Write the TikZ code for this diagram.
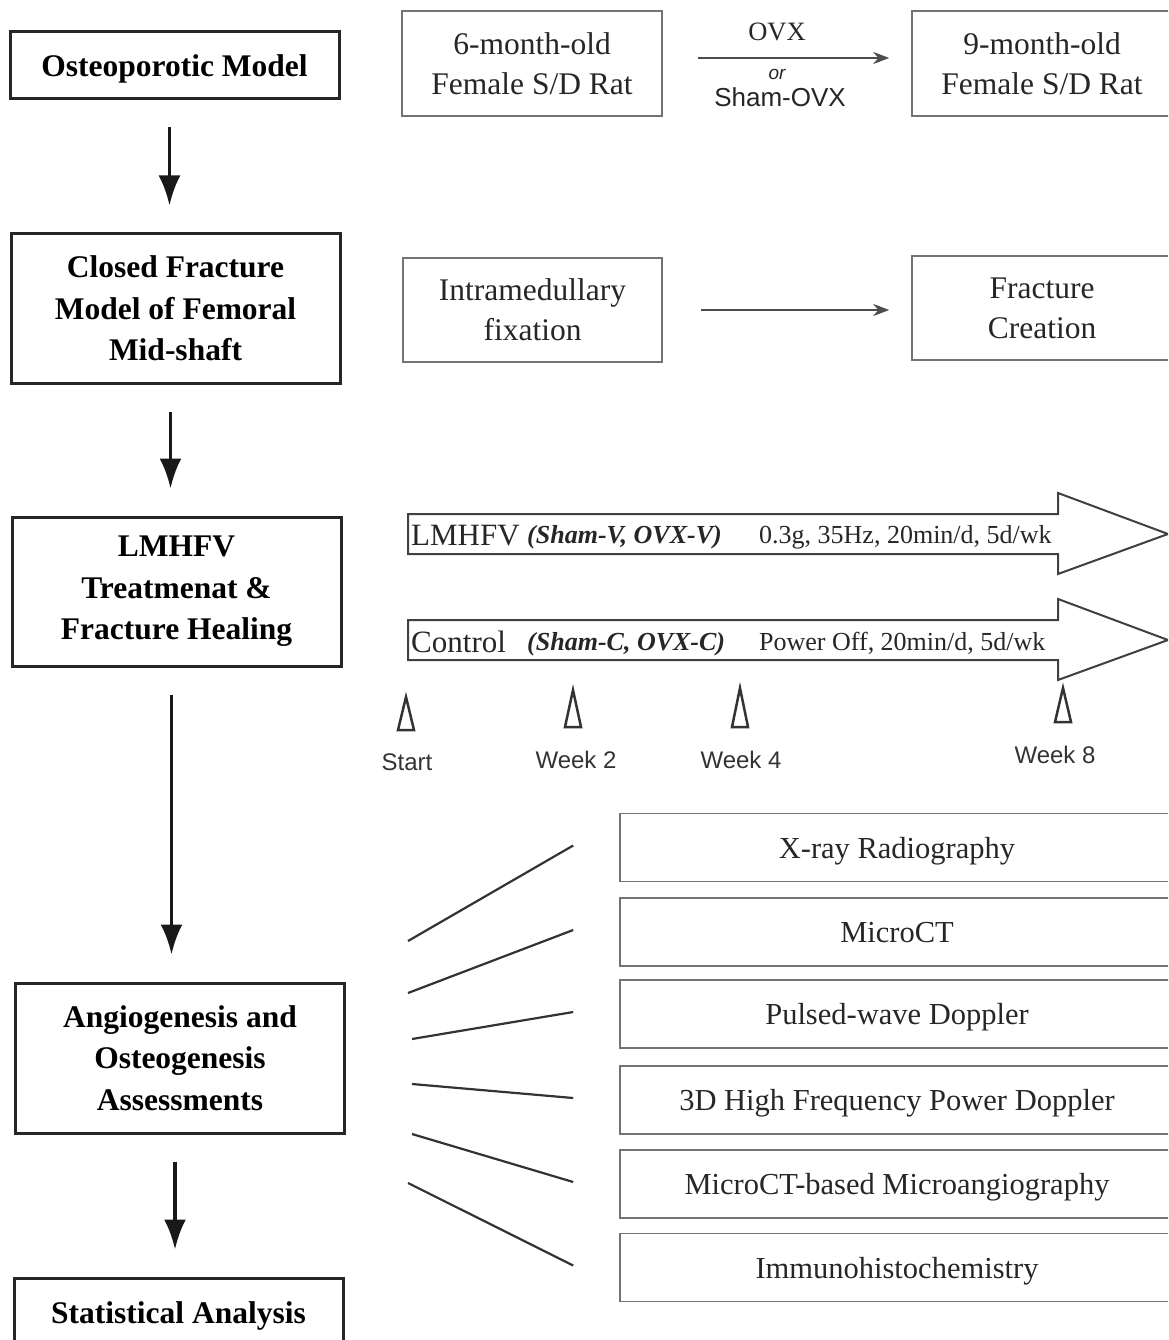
\documentclass[tikz,border=0pt]{standalone}
\usepackage{fontspec}
\setmainfont{Liberation Serif}
\setsansfont{Liberation Sans}
\usetikzlibrary{arrows.meta}

\begin{document}
\begin{tikzpicture}[x=1pt,y=-1pt,
      mainbox/.style={draw=black!85,line width=3pt,minimum width=329pt,inner sep=0pt,align=center,font=\fontsize{31.5}{41.5}\selectfont\bfseries},
      ratbox/.style={draw=black!55,line width=1.6pt,minimum width=260pt,minimum height=105pt,inner sep=0pt,align=center,text=black!85,font=\fontsize{31.5}{40}\selectfont},
      assess/.style={draw=black!55,line width=1.6pt,minimum width=554pt,minimum height=68pt,inner sep=0pt,text depth=0pt,text=black!85,font=\fontsize{30.5}{36}\selectfont},
      arr/.style={-{Latex[length=30pt,width=22pt]},line width=3.8pt,draw=black!90,shorten <=27pt,shorten >=27pt},
      thin/.style={-{Stealth[length=16pt,width=12pt]},line width=2.4pt,draw=black!70},
      barrow/.style={draw=black!75,line width=2pt,fill=white},
      lbl/.style={anchor=base west,inner sep=0pt,text=black!85},
      grp/.style={font=\fontsize{26}{30}\selectfont\bfseries\itshape},
      dose/.style={font=\fontsize{26}{30}\selectfont},
      tmark/.style={draw=black!80,line width=2.5pt,line join=miter},
      wk/.style={text=black!80,font=\sffamily\fontsize{24}{28}\selectfont},
      fan/.style={line width=2.2pt,draw=black!80}]
    \clip (0,0) rectangle (1168,1340);
    % left column
    \node[mainbox,minimum height=67pt,text depth=0pt] (osteo) at (174.5,65.5) {Osteoporotic Model};
    \node[mainbox,minimum height=149pt] (closed) at (175.5,308.5) {Closed Fracture\\Model of Femoral\\Mid-shaft};
    \node[mainbox,minimum height=149pt] (treat) at (176.5,591.5) {LMHFV\\Treatmenat \&\\Fracture Healing};
    \node[mainbox,minimum height=150pt] (angio) at (180,1058) {Angiogenesis and\\Osteogenesis\\Assessments};
    \node[mainbox,minimum height=70pt,text depth=0pt] (stat) at (178.5,1313) {Statistical Analysis};
    \foreach \a/\b in {osteo/closed,closed/treat,treat/angio,angio/stat} {
      \draw[arr] ([xshift=-5pt]\a.south) -- ([xshift=-5pt]\a.south |- \b.north);
    }
    % osteoporotic model
    \node[ratbox] (rat6) at (532,63.5) {6-month-old\\Female S/D Rat};
    \node[ratbox] (rat9) at (1042,63.5) {9-month-old\\Female S/D Rat};
    \draw[thin,shorten <=35pt,shorten >=22pt] ([yshift=5.5pt]rat6.east) -- ([yshift=5.5pt]rat9.west);
    \node[text=black!85,font=\fontsize{26.5}{30}\selectfont] (ovx) at (777,32) {OVX};
    \node[text=black!85,font=\sffamily\itshape\fontsize{19}{22}\selectfont] (orlab) at (777,74) {or};
    \node[text=black!85,font=\sffamily\fontsize{26}{30}\selectfont] (sham) at (780,97) {Sham-OVX};
    % fracture model
    \node[ratbox,minimum width=259pt,minimum height=104pt] (intra) at (532.5,310) {Intramedullary\\fixation};
    \node[ratbox,minimum height=104pt] (fcreate) at (1042,308) {Fracture\\Creation};
    \draw[thin,shorten <=38pt,shorten >=22pt] (intra.east) -- (intra.east -| fcreate.west);
    % treatment groups
    \foreach \yc in {534,640} {
      \draw[barrow] (408,\yc-20) -- (1058,\yc-20) -- (1058,\yc-41) -- (1168,\yc)
        -- (1058,\yc+40) -- (1058,\yc+20) -- (408,\yc+20) -- cycle;
    }
    \node[lbl,font=\fontsize{31}{34}\selectfont] (vib) at (411,545) {LMHFV};
    \node[lbl,grp] (vibgrp) at (527,543) {(Sham-V, OVX-V)};
    \node[lbl,dose] (vibdose) at (759,543) {0.3g, 35Hz, 20min/d, 5d/wk};
    \node[lbl,font=\fontsize{31}{34}\selectfont] (ctrl) at (411,652) {Control};
    \node[lbl,grp] (ctrlgrp) at (527,650) {(Sham-C, OVX-C)};
    \node[lbl,dose] (ctrldose) at (759,650) {Power Off, 20min/d, 5d/wk};
    % time points
    \foreach \x/\ya/\yb/\xl/\yl/\txt [count=\i] in {406/697/730/407/762/Start,573/690/727/576/760/Week 2,740/688/727/741/760/Week 4,1063/688/722/1055/755/Week 8} {
      \draw[tmark] (\x-8,\yb) -- (\x,\ya) -- (\x+8,\yb) -- cycle;
      \node[wk] (wk\i) at (\xl,\yl) {\txt};
    }
    % assessments
    \foreach \nm/\yc/\txt in {xray/847.5/X-ray Radiography,mct/932/MicroCT,pwd/1014/Pulsed-wave Doppler,hfpd/1100/3D High Frequency Power Doppler,mang/1184/MicroCT-based Microangiography,ihc/1267.5/Immunohistochemistry} {
      \node[assess] (\nm) at (897,\yc) {\txt};
    }
    \foreach \nm/\xl/\yl [count=\i] in {xray/408/941,mct/408/993,pwd/412/1039,hfpd/412/1084,mang/412/1134,ihc/408/1183} {
      \coordinate (fan\i) at (\xl,\yl);
      \draw[fan] (fan\i) -- ([xshift=-46pt,yshift=2pt]\nm.west);
    }
  \end{tikzpicture}
\end{document}
